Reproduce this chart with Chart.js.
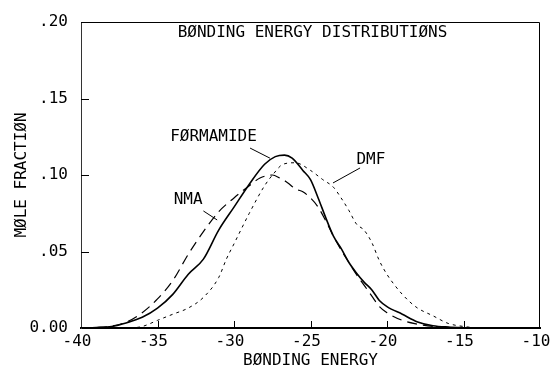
<!DOCTYPE html>
<html lang="en">
<head>
<meta charset="UTF-8">
<title>Bonding Energy Distributions</title>
<style>
  body { margin: 0; background: #fff; }
  #wrap { width: 550px; height: 367px; }
</style>
</head>
<body>
<div id="wrap"><canvas id="myChart"></canvas></div>
<script src="https://cdn.jsdelivr.net/npm/chart.js"></script>
<script>
// axis ticks
const xTicks = [-40, -35, -30, -25, -20, -15, -10];
const yTicks = [0, 0.05, 0.10, 0.15, 0.20];
const yTickLabels = ['0.00', '.05', '.10', '.15', '.20'];

// FORMAMIDE (solid)
const formamideE = [-40, -39, -38, -37, -36, -35, -34, -33, -32, -31, -30, -29, -28, -27.3, -26.7, -26.2, -25.5, -25, -24.5, -24, -23.5, -23, -22.5, -22, -21.5, -21, -20.5, -20, -19, -18, -17, -16, -15, -14];
const formamideY = [0, 0.0003, 0.001, 0.0035, 0.007, 0.013, 0.022, 0.035, 0.045, 0.064, 0.079, 0.094, 0.107, 0.112, 0.113, 0.111, 0.103, 0.097, 0.085, 0.072, 0.060, 0.052, 0.043, 0.036, 0.030, 0.025, 0.018, 0.014, 0.009, 0.004, 0.0015, 0.0006, 0.0002, 0];

// NMA (long dash)
const nmaE = [-40, -39, -38, -37, -36, -35, -34, -33, -32, -31, -30, -29, -28.3, -27.5, -27, -26.5, -26, -25.5, -25, -24.5, -24, -23.5, -23, -22.5, -22, -21.5, -21, -20.5, -20, -19, -18, -17, -16, -15];
const nmaY = [0, 0.0003, 0.0012, 0.004, 0.010, 0.019, 0.031, 0.048, 0.063, 0.076, 0.085, 0.093, 0.098, 0.100, 0.098, 0.095, 0.091, 0.089, 0.085, 0.079, 0.070, 0.060, 0.051, 0.043, 0.035, 0.028, 0.021, 0.014, 0.010, 0.005, 0.0025, 0.001, 0.0004, 0];

// DMF (short dash)
const dmfE = [-40, -37, -36, -35, -34, -33, -32, -31, -30.5, -30, -29, -28, -27.4, -26.8, -26, -25, -24.2, -23.5, -23, -22.5, -22, -21.5, -21, -20.5, -20, -19.5, -19, -18.5, -18, -17, -16, -15, -14];
const dmfY = [0, 0, 0.001, 0.005, 0.009, 0.013, 0.020, 0.033, 0.045, 0.055, 0.075, 0.093, 0.101, 0.107, 0.108, 0.103, 0.097, 0.092, 0.085, 0.077, 0.068, 0.064, 0.056, 0.044, 0.035, 0.028, 0.022, 0.017, 0.013, 0.008, 0.003, 0.001, 0];

// text placed inside the plot (data coordinates)
const notes = [
  { text: 'BØNDING ENERGY DISTRIBUTIØNS', x: -24.87, y: 0.1928 },
  { text: 'FØRMAMIDE', x: -31.34, y: 0.1248 },
  { text: 'NMA', x: -33.0, y: 0.0837 },
  { text: 'DMF', x: -21.05, y: 0.1098 }
];
const leaders = [
  [-28.95, 0.1176, -27.65, 0.111],
  [-32.0, 0.0765, -31.1, 0.0706],
  [-21.76, 0.1046, -23.53, 0.0948]
];

const FONT = '"DejaVu Sans Mono", "Liberation Mono", monospace';
const toPoints = (xs, ys) => xs.map((x, i) => ({ x: x, y: ys[i] }));

const plotFrame = {
  id: 'plotFrame',
  afterDraw(chart) {
    const { ctx, chartArea: a, scales: { x, y } } = chart;
    ctx.save();
    ctx.strokeStyle = '#000';
    ctx.lineWidth = 1;
    ctx.beginPath();
    // top and right edges of the box
    ctx.moveTo(a.left, a.top + 0.5);
    ctx.lineTo(a.right - 0.5, a.top + 0.5);
    ctx.lineTo(a.right - 0.5, a.bottom);
    // inward tick marks
    xTicks.slice(1, -1).forEach(v => {
      const px = Math.round(x.getPixelForValue(v)) + 0.5;
      ctx.moveTo(px, a.bottom);
      ctx.lineTo(px, a.bottom - 7);
    });
    yTicks.slice(1, -1).forEach(v => {
      const py = Math.round(y.getPixelForValue(v)) + 0.5;
      ctx.moveTo(a.left, py);
      ctx.lineTo(a.left + 8, py);
    });
    leaders.forEach(l => {
      ctx.moveTo(x.getPixelForValue(l[0]), y.getPixelForValue(l[1]));
      ctx.lineTo(x.getPixelForValue(l[2]), y.getPixelForValue(l[3]));
    });
    ctx.stroke();

    ctx.fillStyle = '#000';
    ctx.font = '16px ' + FONT;
    ctx.textAlign = 'center';
    ctx.textBaseline = 'middle';
    notes.forEach(n => {
      ctx.fillText(n.text, x.getPixelForValue(n.x), y.getPixelForValue(n.y));
    });
    ctx.restore();
  }
};

const ctx = document.getElementById('myChart').getContext('2d');
new Chart(ctx, {
  type: 'line',
  data: {
    datasets: [
      {
        label: 'FORMAMIDE',
        data: toPoints(formamideE, formamideY),
        borderColor: '#000',
        borderWidth: 1.6,
        pointRadius: 0,
        cubicInterpolationMode: 'monotone'
      },
      {
        label: 'NMA',
        data: toPoints(nmaE, nmaY),
        borderColor: '#000',
        borderWidth: 1.2,
        borderDash: [10, 6],
        pointRadius: 0,
        cubicInterpolationMode: 'monotone'
      },
      {
        label: 'DMF',
        data: toPoints(dmfE, dmfY),
        borderColor: '#000',
        borderWidth: 1,
        borderDash: [3, 4],
        pointRadius: 0,
        cubicInterpolationMode: 'monotone'
      }
    ]
  },
  options: {
    responsive: true,
    maintainAspectRatio: false,
    animation: false,
    layout: { padding: { top: 22, right: 10, left: 0, bottom: 0 } },
    plugins: {
      legend: { display: false },
      tooltip: { enabled: false }
    },
    scales: {
      x: {
        type: 'linear',
        min: -40,
        max: -10,
        afterBuildTicks: s => { s.ticks = xTicks.map(v => ({ value: v })); },
        afterFit: s => { s.height = 39; s.paddingLeft = 0; s.paddingRight = 0; },
        grid: { display: false, drawTicks: false },
        border: { display: true, color: '#000', width: 2 },
        ticks: {
          color: '#000',
          font: { family: FONT, size: 16 },
          padding: 4,
          labelOffset: -4,
          maxRotation: 0,
          autoSkip: false,
          callback: v => String(v)
        },
        title: {
          display: true,
          text: 'BØNDING ENERGY',
          color: '#000',
          font: { family: FONT, size: 16, lineHeight: 1 },
          padding: { top: 0, bottom: -2 }
        }
      },
      y: {
        min: 0,
        max: 0.2,
        afterBuildTicks: s => { s.ticks = yTicks.map(v => ({ value: v })); },
        afterFit: s => { s.width = 81; s.paddingTop = 0; s.paddingBottom = 0; },
        grid: { display: false, drawTicks: false },
        border: { display: true, color: '#333', width: 1 },
        ticks: {
          color: '#000',
          font: { family: FONT, size: 16 },
          padding: 13,
          autoSkip: false,
          callback: (v, i) => yTickLabels[i]
        },
        title: {
          display: true,
          text: 'MØLE FRACTIØN',
          color: '#000',
          font: { family: FONT, size: 16, lineHeight: 1 },
          padding: { top: 14, bottom: 0 }
        }
      }
    }
  },
  plugins: [plotFrame]
});
</script>
</body>
</html>
